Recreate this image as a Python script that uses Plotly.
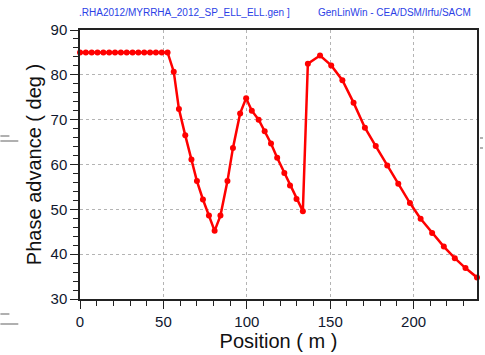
import plotly.graph_objects as go

# Data
position = [0, 3.5, 7, 10.5, 14, 17.5, 21, 24.5, 28, 31.5, 35, 38.5, 42, 45.5, 49, 52.5,
            56.2, 59.3, 63.1, 66.8, 70.1, 73.7, 77.3, 80.7, 84.2, 88.4, 91.7, 96.0,
            99.6, 103.0, 107.1, 110.7, 114.5, 118.2, 122.5, 125.9, 129.8, 133.6,
            136.6, 143.9, 150.6, 157.3, 164.0, 170.8, 177.3, 184.2, 190.8, 197.8,
            204.2, 211.1, 218.1, 224.7, 231.1, 238.0]
phase_advance = [85, 85, 85, 85, 85, 85, 85, 85, 85, 85, 85, 85, 85, 85, 85, 85,
                 80.7, 72.4, 66.5, 61.1, 56.3, 52.2, 48.6, 45.2, 48.6, 56.3, 63.7, 71.4,
                 74.8, 72.0, 70.0, 67.4, 64.7, 61.5, 58.1, 55.3, 52.3, 49.6,
                 82.5, 84.3, 82.1, 78.8, 73.8, 68.2, 64.1, 59.8, 55.7, 51.4,
                 47.9, 44.7, 41.7, 39.1, 36.9, 34.8]

x_ticks = [0, 50, 100, 150, 200]
y_ticks = [30, 40, 50, 60, 70, 80, 90]
header_left = ".RHA2012/MYRRHA_2012_SP_ELL_ELL.gen ]"
header_right = "GenLinWin - CEA/DSM/Irfu/SACM"
x_title = "Position ( m )"
y_title = "Phase advance ( deg )"

FONT = "Liberation Sans"

fig = go.Figure()
fig.add_trace(go.Scatter(
    x=position, y=phase_advance, mode="lines+markers",
    line=dict(color="#ff0000", width=2.5),
    marker=dict(color="#ff0000", size=6),
    showlegend=False, cliponaxis=False,
))

axis_common = dict(
    showline=True, linecolor="#222222", linewidth=1.5, mirror=True,
    showgrid=True, gridcolor="#b4b4b4", griddash="dot", gridwidth=1,
    ticks="outside", ticklen=8, tickwidth=1, tickcolor="#222222",
    tickfont=dict(family=FONT, size=15, color="#10182e"),
    zeroline=False,
)

fig.update_layout(
    width=485, height=355,
    margin=dict(l=80, r=6, t=30, b=56),
    paper_bgcolor="white", plot_bgcolor="white",
    xaxis=dict(range=[0, 238], tickvals=x_ticks,
               minor=dict(dtick=10, tick0=0, ticks="outside", ticklen=5,
                          tickcolor="#222222", showgrid=False),
               title=dict(text=x_title, font=dict(family=FONT, size=20, color="#111111"),
                          standoff=4),
               **axis_common),
    yaxis=dict(range=[30, 90], tickvals=y_ticks,
               minor=dict(dtick=2, tick0=30, ticks="outside", ticklen=5,
                          tickcolor="#222222", showgrid=False),
               title=dict(text=y_title, font=dict(family=FONT, size=20, color="#111111"),
                          standoff=4),
               **axis_common),
)

# Header texts (plot area: x 80..479 px, y 30..299 px)
fig.add_annotation(text=header_left, xref="paper", yref="paper",
                   x=(77 - 80) / 399, y=1 + (30 - 12) / 269, xanchor="left", yanchor="middle",
                   showarrow=False, font=dict(family=FONT, size=10, color="#2b3fe6"))
fig.add_annotation(text=header_right, xref="paper", yref="paper",
                   x=(475 - 80) / 399, y=1 + (30 - 12) / 269, xanchor="right", yanchor="middle",
                   showarrow=False, font=dict(family=FONT, size=10, color="#2b3fe6"))

# Small grey background artefacts at the edges of the window
def px_line(x0, y0, x1, y1, dash="solid"):
    fig.add_shape(type="line", xref="paper", yref="paper",
                  x0=(x0 - 80) / 399, x1=(x1 - 80) / 399,
                  y0=(299 - y0) / 269, y1=(299 - y1) / 269,
                  line=dict(color="#b0b0b0", width=2, dash=dash))

px_line(0, 136, 18, 136, "dash")
px_line(0, 141, 18, 141)
px_line(0, 314, 18, 314, "dash")
px_line(0, 324, 18, 324)
px_line(482, 138, 485, 138)
px_line(482, 148, 485, 148)

fig.write_html("out.html")
